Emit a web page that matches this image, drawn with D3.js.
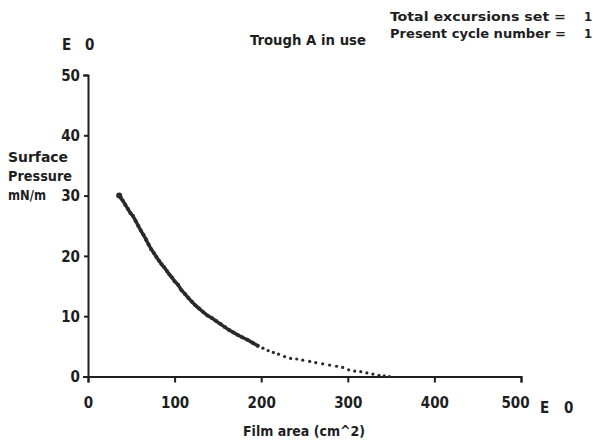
<!DOCTYPE html>
<html><head><meta charset="utf-8">
<script src="https://cdn.jsdelivr.net/npm/d3@7"></script>
<style>
html,body{margin:0;padding:0;background:#fff;}
svg{display:block;}
text{font-family:"DejaVu Sans Condensed","DejaVu Sans",sans-serif;font-weight:bold;fill:#1e1e1e;}
</style></head>
<body>
<svg id="c" width="593" height="441"></svg>
<script>
// ---- data ----
const filmArea = [37,38,40,43,46,49,52,55,58,61,64,67,70,73,76,79,82,85,88,91,94,97,100,104,108,112,116,120,124,128,133,138,143,148,153,158,163,168,173,178,184,190,196,202,208,214,220,227,234,241,248,256,263,271,279,287,294,301,308,315,322,329,336,342,348];
const surfacePressure = [30.0,29.6,29.2,28.5,27.8,27.1,26.6,25.8,25.0,24.2,23.5,22.7,21.9,21.1,20.5,19.8,19.2,18.6,18.1,17.5,16.9,16.4,15.8,15.2,14.3,13.7,13.0,12.4,11.8,11.3,10.7,10.1,9.7,9.2,8.7,8.2,7.7,7.3,6.9,6.5,6.1,5.6,5.1,4.7,4.3,4.0,3.7,3.3,3.0,2.9,2.7,2.5,2.3,2.1,1.9,1.7,1.5,1.1,0.9,0.8,0.6,0.4,0.2,0.1,0.0];
const xTicks = [0,100,200,300,400,500];
const yTicks = [0,10,20,30,40,50];
const yTitle = ["Surface","Pressure","mN/m"];
const xTitle = "Film area (cm^2)";
const header1 = "Total excursions set =";
const header2 = "Present cycle number =";
const headerVal = ["1","1"];
const troughText = "Trough A in use";
const scaleMark = ["E","0"];

const svg = d3.select("#c");
const ink = "#1e1e1e";
const x = d3.scaleLinear().domain([0,500]).range([88,521]);
const y = d3.scaleLinear().domain([0,50]).range([376.5,75]);

// axes
const xAxis = d3.axisBottom(x).tickValues(xTicks).tickSize(6).tickSizeOuter(6).tickPadding(22).tickFormat(d=>d);
const gx = svg.append("g").attr("transform",`translate(0,${y(0)})`).call(xAxis);
const yAxis = d3.axisLeft(y).tickValues(yTicks).tickSize(4).tickSizeOuter(5).tickPadding(4).tickFormat(d=>d);
const gy = svg.append("g").attr("transform",`translate(${x(0)},0)`).call(yAxis);
[gx,gy].forEach(g=>{
  g.selectAll("path,line").attr("stroke",ink).attr("stroke-width",2);
  g.selectAll("text").style("font-size","15px").attr("fill",ink);
});
gx.selectAll(".tick text").attr("dy","0.2em");
gx.selectAll(".tick text").filter(d=>d===500).attr("dx","-6");
gy.selectAll(".tick text").attr("dy","0.35em");

// curve: dense continuous part as thick line, plus dots for all readings
const pts = filmArea.map((a,i)=>[a,surfacePressure[i]]);
svg.append("path")
  .datum(pts.filter(p=>p[0]<=200))
  .attr("fill","none").attr("stroke","#2a2a2a").attr("stroke-width",3.4)
  .attr("stroke-linejoin","round").attr("stroke-linecap","round")
  .attr("d",d3.line().x(p=>x(p[0])).y(p=>y(p[1])));
svg.append("g").selectAll("circle").data(pts).join("circle")
  .attr("cx",p=>x(p[0])).attr("cy",p=>y(p[1]))
  .attr("r",p=>p[0]<=200?2:1.6).attr("fill","#2a2a2a");
svg.append("circle").attr("cx",x(36)).attr("cy",y(30)).attr("r",3).attr("fill","#2a2a2a");

// texts
function t(str,xp,yp,w,size,anchor){
  const el = svg.append("text").attr("x",xp).attr("y",yp).text(str)
    .style("font-size",(size||15)+"px").attr("text-anchor",anchor||"start");
  if(w) el.attr("textLength",w).attr("lengthAdjust","spacingAndGlyphs");
  return el;
}
t(header1,390,21,176,13);
t(header2,390,38,176,13);
t(headerVal[0],584,21,null,13);
t(headerVal[1],584,38,null,13);
t(troughText,250,45,116,14);
t(scaleMark[0],62,50,null,15);
t(scaleMark[1],85,50,null,15);
t(yTitle[0],8,162,60,14);
t(yTitle[1],8,181,64,14);
t(yTitle[2],8,200,38,14);
t(scaleMark[0],540,413,null,15);
t(scaleMark[1],564,413,null,15);
t(xTitle,243,436,122,14);
</script>
</body></html>
